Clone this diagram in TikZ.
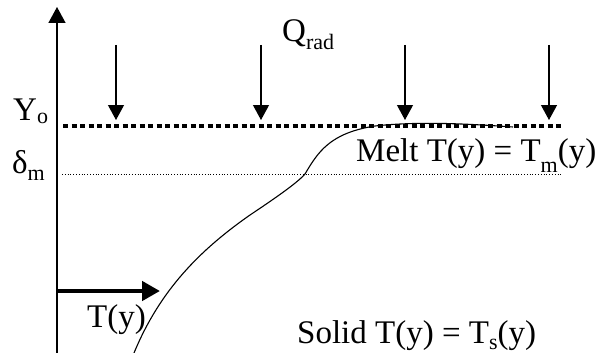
\documentclass[tikz,border=0pt]{standalone}
\usepackage{fontspec}
\setmainfont{Liberation Serif}
\usetikzlibrary{arrows.meta}
\newcommand\lowsub[2]{\raisebox{-#1pt}{\fontsize{22}{22}\selectfont #2}}
\begin{document}
\begin{tikzpicture}[x=1pt,y=-1pt,
  lbl/.style={inner sep=0pt, anchor=base west, font=\fontsize{33}{38}\selectfont},
  axisline/.style={line width=1.5pt, -{Triangle[width=17pt,length=16pt]}},
  qarrow/.style={line width=1.2pt, -{Triangle[width=16pt,length=15pt]}},
  tarrow/.style={line width=4.5pt, -{Triangle[width=19pt,length=18pt]}},
  surf/.style={line width=4pt, dash pattern=on 5pt off 3.5pt},
  meltline/.style={line width=0.8pt, dash pattern=on 1pt off 1.8pt},
  profile/.style={line width=1.1pt}]
\useasboundingbox (0,0) rectangle (597,353);
% axis
\coordinate (ax0) at (57,353);
\coordinate (ax1) at (57,7);
\draw[axisline] (ax0) -- (ax1);
% radiation arrows
\foreach \i/\x in {1/116,2/261,3/405,4/549}{
  \coordinate (qs\i) at (\x,45);
  \coordinate (qe\i) at (\x,120);
  \draw[qarrow] (qs\i) -- (qe\i);
}
% surface and melt lines
\coordinate (ys0) at (63,126);
\coordinate (ys1) at (563,126);
\draw[surf] (ys0) -- (ys1);
\coordinate (dm0) at (62,174);
\coordinate (dm1) at (563,174);
\draw[meltline] (dm0) -- (dm1);
% T(y) arrow
\coordinate (ta0) at (57,291);
\coordinate (ta1) at (160,291);
\draw[tarrow] (ta0) -- (ta1);
% temperature profile
\draw[profile] (134,353) .. controls (160,290) and (200,250) .. (250,215)
  .. controls (280,195) and (298,182) .. (305,174)
  .. controls (318,152) and (330,133) .. (375,126)
  .. controls (420,121) and (470,124) .. (513,127);
% labels
\node[lbl] (yo) at (13,120) {Y\lowsub{3}{o}};
\node[lbl] (dlt) at (12,173) {δ\lowsub{7}{m}};
\node[lbl] (qrad) at (282,42) {Q\lowsub{7}{rad}};
\node[lbl] (melt) at (356,161) {Melt T(y) = T\lowsub{11}{m}(y)};
\node[lbl] (solid) at (297,343) {Solid T(y) = T\lowsub{6}{s}(y)};
\node[lbl] (ty) at (87,327) {T(y)};
\end{tikzpicture}
\end{document}
